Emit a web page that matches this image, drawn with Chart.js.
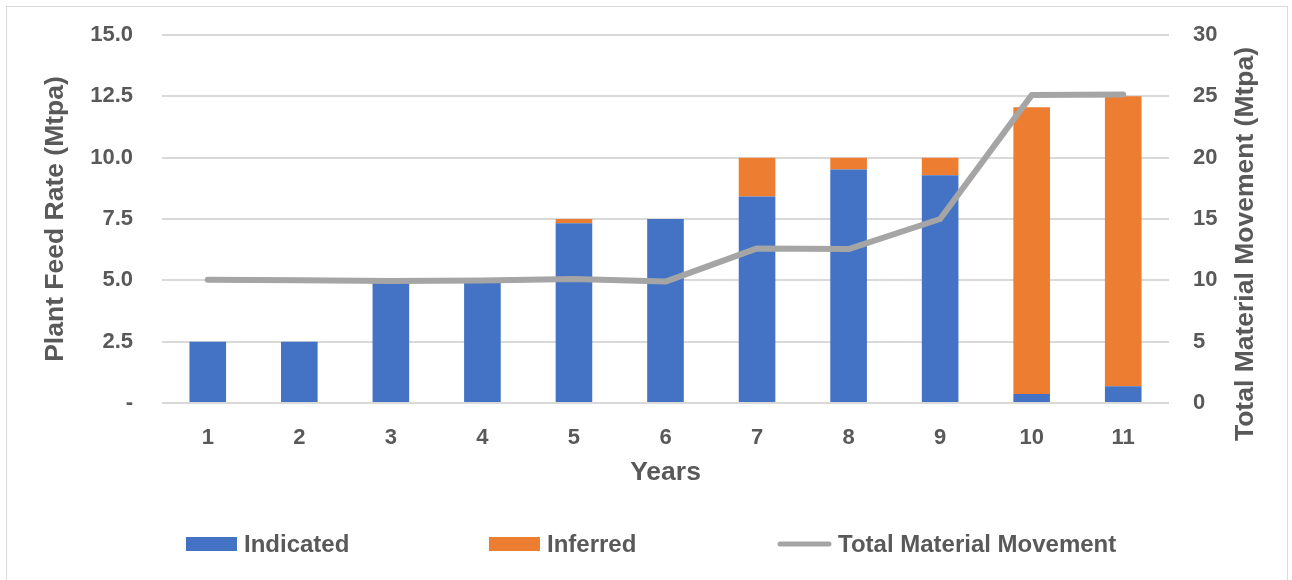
<!DOCTYPE html>
<html>
<head>
<meta charset="utf-8">
<script src="https://cdn.jsdelivr.net/npm/chart.js@4/dist/chart.umd.min.js"></script>
<style>
  html, body { margin: 0; padding: 0; background: #ffffff; }
  #wrap { position: relative; width: 1292px; height: 580px; }
  canvas { display: block; }
</style>
</head>
<body>
<div id="wrap"><canvas id="c" width="1292" height="580"></canvas></div>
<script>
// Production schedule by year
const years = ['1', '2', '3', '4', '5', '6', '7', '8', '9', '10', '11'];
const indicated = [2.5, 2.5, 5.0, 5.0, 7.33, 7.5, 8.42, 9.52, 9.28, 0.37, 0.68];
const inferred = [0, 0, 0, 0, 0.17, 0, 1.58, 0.48, 0.72, 11.68, 11.82];
const totalMovement = [10.05, 10.0, 9.95, 9.98, 10.1, 9.9, 12.6, 12.55, 15.0, 25.1, 25.15];

// Axis tick labels
const feedTickLabels = ['-', '2.5', '5.0', '7.5', '10.0', '12.5', '15.0'];
const movementTickLabels = ['0', '5', '10', '15', '20', '25', '30'];

const seriesNames = ['Indicated', 'Inferred', 'Total Material Movement'];
const axisTitles = ['Plant Feed Rate (Mtpa)', 'Years', 'Total Material Movement (Mtpa)'];

const FONT = "'Liberation Sans', Arial, sans-serif";
const TEXT = '#595959';
const GRID = '#d9d9d9';
const BLUE = '#4472c4';
const ORANGE = '#ed7d31';
const GREY = '#a5a5a5';

Chart.defaults.font.family = FONT;
Chart.defaults.color = TEXT;

// Outer frame around the whole chart
const framePlugin = {
  id: 'frame',
  beforeDraw(chart) {
    const ctx = chart.ctx;
    ctx.save();
    ctx.fillStyle = '#ffffff';
    ctx.fillRect(0, 0, chart.width, chart.height);
    ctx.strokeStyle = '#d9d9d9';
    ctx.lineWidth = 1;
    ctx.strokeRect(6.5, 6.5, 1281, 580);
    ctx.restore();
  }
};

// Right-hand axis title, reading bottom to top
const rightTitlePlugin = {
  id: 'rightTitle',
  afterDraw(chart, args, opts) {
    const ctx = chart.ctx;
    ctx.save();
    ctx.translate(opts.x, opts.y);
    ctx.rotate(-Math.PI / 2);
    ctx.font = 'bold 26.5px ' + FONT;
    ctx.fillStyle = TEXT;
    ctx.textAlign = 'center';
    ctx.textBaseline = 'middle';
    ctx.fillText(opts.text, 0, 0);
    ctx.restore();
  }
};

// Legend row along the bottom
const bottomLegendPlugin = {
  id: 'bottomLegend',
  afterDraw(chart, args, opts) {
    const ctx = chart.ctx;
    ctx.save();
    ctx.font = 'bold 24px ' + FONT;
    ctx.textBaseline = 'middle';
    ctx.textAlign = 'left';
    const y = opts.y;
    chart.data.datasets.forEach((ds, i) => {
      const x = opts.xs[i];
      if (ds.type === 'line') {
        ctx.strokeStyle = ds.borderColor;
        ctx.lineWidth = 5;
        ctx.lineCap = 'round';
        ctx.beginPath();
        ctx.moveTo(x + 3, y);
        ctx.lineTo(x + 52, y);
        ctx.stroke();
        ctx.fillStyle = TEXT;
        ctx.fillText(ds.label, x + 61, y + 1);
      } else {
        ctx.fillStyle = ds.backgroundColor;
        ctx.fillRect(x, y - 7, 51, 14);
        ctx.fillStyle = TEXT;
        ctx.fillText(ds.label, x + 58, y + 1);
      }
    });
    ctx.restore();
  }
};

// Keep the vertical axes from reserving label overhang above the plot
function fixVertical(width) {
  return function (scale) {
    scale.width = width;
    scale.paddingTop = 0;
    scale.paddingBottom = 0;
  };
}

new Chart(document.getElementById('c'), {
  data: {
    labels: years,
    datasets: [
      {
        type: 'bar',
        label: seriesNames[0],
        data: indicated,
        yAxisID: 'y',
        backgroundColor: BLUE,
        borderWidth: 0,
        categoryPercentage: 1.0,
        barPercentage: 0.4,
        stack: 'feed',
        order: 1
      },
      {
        type: 'bar',
        label: seriesNames[1],
        data: inferred,
        yAxisID: 'y',
        backgroundColor: ORANGE,
        borderWidth: 0,
        categoryPercentage: 1.0,
        barPercentage: 0.4,
        stack: 'feed',
        order: 1
      },
      {
        type: 'line',
        label: seriesNames[2],
        data: totalMovement,
        yAxisID: 'yRight',
        borderColor: GREY,
        backgroundColor: GREY,
        borderWidth: 6,
        borderCapStyle: 'round',
        borderJoinStyle: 'round',
        pointRadius: 0,
        pointHoverRadius: 0,
        tension: 0,
        order: 0
      }
    ]
  },
  options: {
    responsive: false,
    animation: false,
    devicePixelRatio: 1,
    layout: { padding: { left: 0, right: 0, top: 35, bottom: 80 } },
    plugins: {
      legend: { display: false },
      tooltip: { enabled: false },
      rightTitle: { text: axisTitles[2], x: 1246, y: 244 },
      bottomLegend: { y: 544, xs: [186, 489, 777] }
    },
    scales: {
      x: {
        stacked: true,
        grid: { display: false, drawTicks: false },
        border: { display: false },
        ticks: {
          padding: 22,
          font: { size: 22, weight: 'bold' },
          color: TEXT,
          maxRotation: 0
        },
        title: {
          display: true,
          text: axisTitles[1],
          font: { size: 26.5, weight: 'bold' },
          color: TEXT,
          padding: { top: 0, bottom: 11 }
        },
        afterFit(scale) { scale.height = 97; }
      },
      y: {
        type: 'linear',
        position: 'left',
        stacked: true,
        min: 0,
        max: 15,
        grid: { color: GRID, lineWidth: 2, drawTicks: false },
        border: { display: false },
        ticks: {
          stepSize: 2.5,
          padding: 29,
          font: { size: 22, weight: 'bold' },
          color: TEXT,
          callback: (v, i) => feedTickLabels[i]
        },
        title: {
          display: true,
          text: axisTitles[0],
          font: { size: 26.5, weight: 'bold' },
          color: TEXT,
          padding: { top: 40, bottom: 0 }
        },
        afterFit: fixVertical(162)
      },
      yRight: {
        type: 'linear',
        position: 'right',
        min: 0,
        max: 30,
        grid: { display: false, drawTicks: false },
        border: { display: false },
        ticks: {
          stepSize: 5,
          padding: 24,
          font: { size: 22, weight: 'bold' },
          color: TEXT,
          callback: (v, i) => movementTickLabels[i]
        },
        afterFit: fixVertical(123)
      }
    }
  },
  plugins: [framePlugin, rightTitlePlugin, bottomLegendPlugin]
});
</script>
</body>
</html>
